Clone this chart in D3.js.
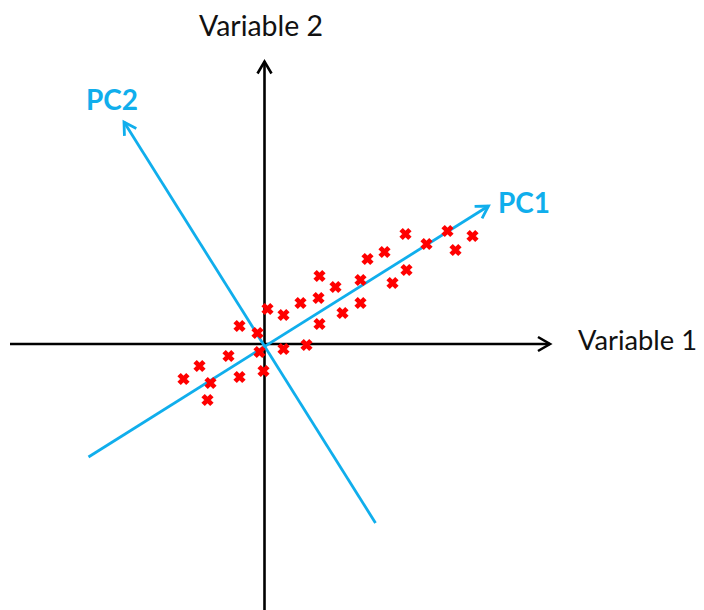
<!DOCTYPE html>
<html>
<head>
<meta charset="utf-8">
<script src="https://cdn.jsdelivr.net/npm/d3@7"></script>
<style>
  html, body { margin: 0; padding: 0; background: #fff; }
  svg { display: block; }
</style>
</head>
<body>
<div id="chart"></div>
<script>
// ---- Data (units: Variable 1 / Variable 2) ----
const var1 = [-8.1, -6.5, -5.4, -5.7, -3.6, -2.5, -2.5, -0.7, -0.5, -0.1, 0.3, 1.9, 1.9, 3.6, 4.2, 5.5, 5.4, 5.5, 7.1, 7.8, 9.6, 9.6, 10.3, 12.0, 12.8, 14.2, 14.1, 16.2, 18.3, 19.1, 20.8];
const var2 = [-3.5, -2.2, -3.9, -5.6, -1.2, -3.3, 1.8, 1.1, -0.8, -2.7, 3.5, 2.9, -0.5, 4.1, -0.1, 6.8, 4.6, 2.0, 5.7, 3.1, 6.4, 4.1, 8.5, 9.2, 6.1, 7.4, 11.0, 10.0, 11.3, 9.4, 10.8];
// principal component directions: [start, end(tip)]
const pc1 = [[-17.6, -11.3], [22.4, 13.8]];
const pc2 = [[11.1, -17.9], [-14.05, 22.2]];
const axisLabels = ["Variable 1", "Variable 2"];
const pcLabels = ["PC1", "PC2"];
const xExtent = [-25.45, 28.65];
const yExtent = [-26.6, 28.35];

const W = 704, H = 610;
const x = d3.scaleLinear().domain(xExtent).range([10, 551]);
const y = d3.scaleLinear().domain(yExtent).range([610, 60.5]);

const svg = d3.select("#chart").append("svg").attr("width", W).attr("height", H);

function arrow(g, x1, y1, x2, y2, color, width, len, halfW) {
  g.append("line").attr("x1", x1).attr("y1", y1).attr("x2", x2).attr("y2", y2)
    .attr("stroke", color).attr("stroke-width", width);
  const a = Math.atan2(y2 - y1, x2 - x1);
  const bx = x2 - len * Math.cos(a), by = y2 - len * Math.sin(a);
  const px = -Math.sin(a) * halfW, py = Math.cos(a) * halfW;
  g.append("path")
    .attr("d", `M${bx + px},${by + py}L${x2},${y2}L${bx - px},${by - py}`)
    .attr("fill", "none").attr("stroke", color).attr("stroke-width", width)
    .attr("stroke-linejoin", "miter");
}

// axes
const axes = svg.append("g");
arrow(axes, x(xExtent[0]), y(0), x(xExtent[1]) - 1, y(0), "#000", 2.6, 12, 7);
arrow(axes, x(0), y(yExtent[0]), x(0), y(yExtent[1]) + 1, "#000", 2.6, 12, 7);

// PC lines
const blue = "#10AEEC";
const pcs = svg.append("g");
arrow(pcs, x(pc1[0][0]), y(pc1[0][1]), x(pc1[1][0]), y(pc1[1][1]), blue, 2.8, 12, 7);
arrow(pcs, x(pc2[0][0]), y(pc2[0][1]), x(pc2[1][0]), y(pc2[1][1]), blue, 2.8, 12, 7);

// points (red crosses)
const pts = var1.map((v, i) => [v, var2[i]]);
const s = 4.4;
svg.append("g").selectAll("path").data(pts).join("path")
  .attr("d", d => {
    const cx = x(d[0]), cy = y(d[1]);
    return `M${cx - s},${cy - s}L${cx + s},${cy + s}M${cx - s},${cy + s}L${cx + s},${cy - s}`;
  })
  .attr("stroke", "#FF0000").attr("stroke-width", 4.8).attr("fill", "none");

// labels
const font = "Lato, 'Open Sans', sans-serif";
svg.append("text").attr("x", 578).attr("y", 349.5).text(axisLabels[0])
  .attr("font-family", font).attr("font-size", 27).attr("fill", "#111")
  .attr("textLength", 119).attr("lengthAdjust", "spacingAndGlyphs");
svg.append("text").attr("x", 199).attr("y", 36).text(axisLabels[1])
  .attr("font-family", font).attr("font-size", 28).attr("fill", "#111")
  .attr("textLength", 124).attr("lengthAdjust", "spacingAndGlyphs");
svg.append("text").attr("x", 498).attr("y", 212.5).text(pcLabels[0])
  .attr("font-family", font).attr("font-weight", "bold").attr("font-size", 29).attr("fill", blue)
  .attr("textLength", 52).attr("lengthAdjust", "spacingAndGlyphs");
svg.append("text").attr("x", 86).attr("y", 109.5).text(pcLabels[1])
  .attr("font-family", font).attr("font-weight", "bold").attr("font-size", 29).attr("fill", blue)
  .attr("textLength", 52).attr("lengthAdjust", "spacingAndGlyphs");
</script>
</body>
</html>
